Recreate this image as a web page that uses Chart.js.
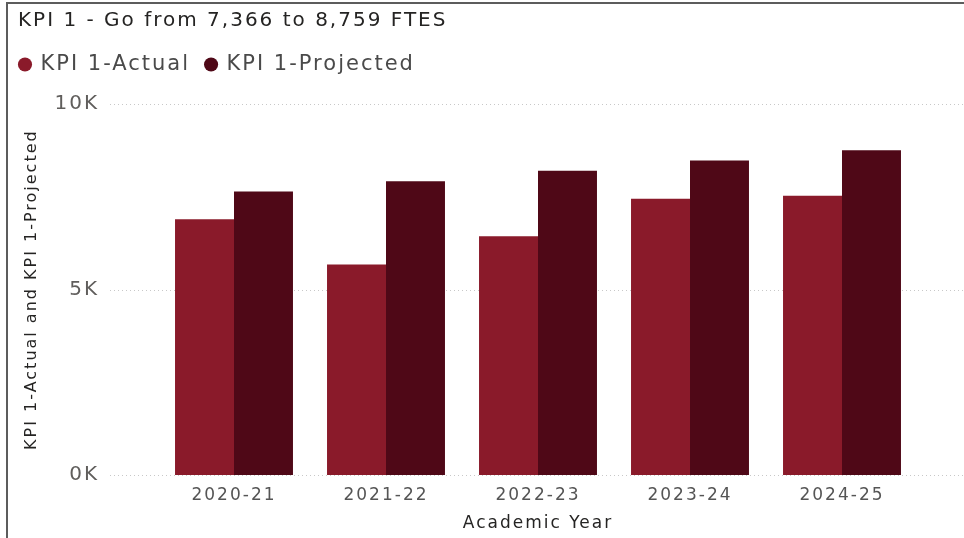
<!DOCTYPE html>
<html>
<head>
<meta charset="utf-8">
<script src="https://cdn.jsdelivr.net/npm/chart.js@4.4.1/dist/chart.umd.min.js"></script>
<style>
  html, body { margin: 0; padding: 0; background: #fff; }
  #wrap { position: relative; width: 964px; height: 538px; overflow: hidden; }
  #frame { position: absolute; left: 6px; top: 2px; right: -4px; bottom: -4px;
           border-top: 2px solid #5c5c5c; border-left: 2px solid #5c5c5c; pointer-events: none; }
</style>
</head>
<body>
<div id="wrap">
  <canvas id="chart-kpi1" width="964" height="538"></canvas>
  <div id="frame"></div>
</div>
<script>
var chartTitle = 'KPI 1 - Go from 7,366 to 8,759 FTES';
var academicYears = ['2020-21', '2021-22', '2022-23', '2023-24', '2024-25'];
var actualFtes = [6900, 5680, 6440, 7450, 7530];
var projectedFtes = [7645, 7924, 8202, 8481, 8759];
var yTickValues = [0, 5000, 10000];

var mainFont = '"DejaVu Sans"';
var textSpacing = '2px';

// wide lettering for every label the chart draws
var spacingPlugin = {
  id: 'wideText',
  beforeLayout: function (chart) { chart.ctx.letterSpacing = textSpacing; },
  beforeDraw: function (chart) { chart.ctx.letterSpacing = textSpacing; }
};

// title drawn at a fixed inset, the built-in title always hugs the left padding
var titlePlugin = {
  id: 'kpiTitle',
  afterDraw: function (chart) {
    var ctx = chart.ctx;
    ctx.save();
    ctx.font = '20px ' + mainFont;
    ctx.letterSpacing = '2px';
    ctx.fillStyle = '#252423';
    ctx.textBaseline = 'middle';
    ctx.fillText(chartTitle, 18, 21);
    ctx.restore();
  }
};

// dotted gridlines run wider than the bar area
var gridPlugin = {
  id: 'wideGrid',
  beforeDatasetsDraw: function (chart) {
    var ctx = chart.ctx;
    var y = chart.scales.y;
    ctx.save();
    ctx.strokeStyle = '#c8c8c8';
    ctx.lineWidth = 1;
    ctx.setLineDash([1, 3]);
    yTickValues.forEach(function (v) {
      var py = Math.round(y.getPixelForValue(v)) + 0.5;
      ctx.beginPath();
      ctx.moveTo(110, py);
      ctx.lineTo(chart.width, py);
      ctx.stroke();
    });
    ctx.restore();
  }
};

var config = {
  type: 'bar',
  data: {
    labels: academicYears,
    datasets: [
      { label: 'KPI 1-Actual', data: actualFtes, backgroundColor: '#8a1a2a', borderWidth: 0 },
      { label: 'KPI 1-Projected', data: projectedFtes, backgroundColor: '#4f0817', borderWidth: 0 }
    ]
  },
  options: {
    responsive: false,
    animation: false,
    devicePixelRatio: 1,
    datasets: { bar: { categoryPercentage: 0.776, barPercentage: 1 } },
    layout: { padding: { top: 38, left: 4, right: 46, bottom: 0 } },
    plugins: {
      title: { display: false },
      // empty subtitle keeps a gap between legend and plot
      subtitle: {
        display: true, text: '', weight: 500,
        font: { size: 1 }, padding: { top: 0, bottom: 18 }
      },
      legend: {
        display: true,
        position: 'top',
        align: 'start',
        labels: {
          usePointStyle: true,
          pointStyle: 'circle',
          boxWidth: 10,
          boxHeight: 10,
          padding: 16,
          color: '#4a4a4a',
          font: { family: mainFont, size: 21 }
        }
      },
      tooltip: { enabled: false }
    },
    scales: {
      x: {
        grid: { display: false },
        border: { display: false },
        ticks: { color: '#555555', padding: 2, font: { family: mainFont, size: 17 } },
        title: {
          display: true, text: 'Academic Year', color: '#252423',
          padding: { top: 0, bottom: -2 }, font: { family: mainFont, size: 17 }
        },
        afterFit: function (scale) { scale.height = 57; }
      },
      y: {
        min: 0,
        max: 10000,
        grid: { display: false },
        border: { display: false },
        afterBuildTicks: function (scale) {
          scale.ticks = yTickValues.map(function (v) { return { value: v }; });
        },
        ticks: {
          color: '#605e5c',
          padding: 51,
          font: { family: mainFont, size: 20 },
          callback: function (v) { return (v / 1000) + 'K'; }
        },
        title: {
          display: true, text: 'KPI 1-Actual and KPI 1-Projected', color: '#252423',
          padding: { top: 18, bottom: 0 }, font: { family: mainFont, size: 16 }
        },
        afterFit: function (scale) { scale.width = 154; }
      }
    }
  },
  plugins: [spacingPlugin, titlePlugin, gridPlugin]
};

new Chart(document.getElementById('chart-kpi1'), config);
</script>
</body>
</html>
